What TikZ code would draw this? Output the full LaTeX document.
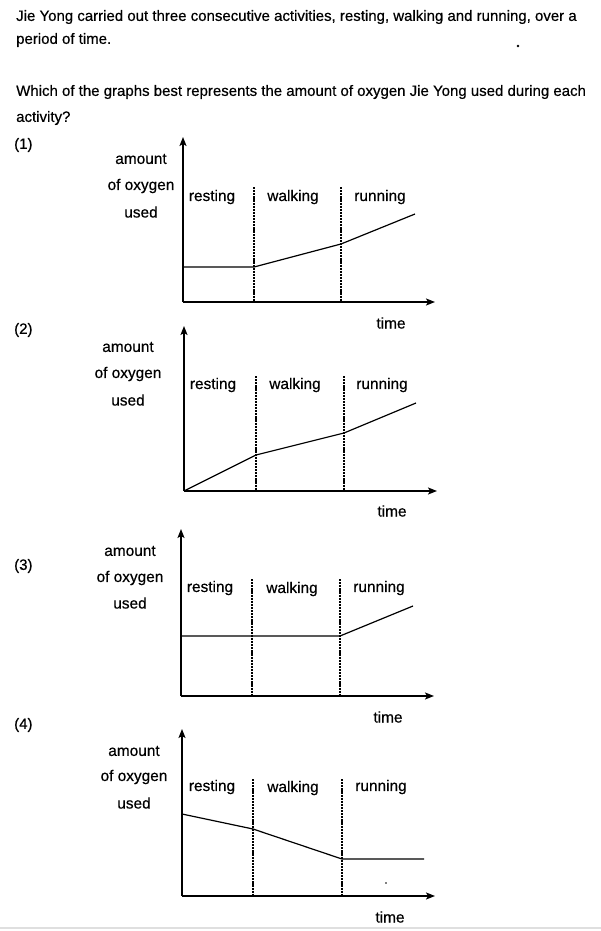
\documentclass[tikz,border=0pt]{standalone}
\usepackage{fontspec}
\setmainfont{Liberation Sans}[FakeBold=0.5]
\usetikzlibrary{arrows.meta}
\begin{document}
\begin{tikzpicture}[x=1pt,y=-1pt,
 txt/.style={font=\fontsize{15}{17}\selectfont, inner sep=0pt},
 lab/.style={font=\fontsize{15.4}{17}\selectfont, inner sep=0pt},
 axis/.style={line width=1.4pt, -{Stealth[length=9pt,width=7pt,inset=2pt]}},
 divider/.style={line width=1.1pt, dash pattern=on 2.2pt off 0.9pt},
 curve/.style={line width=1.2pt, line join=round},
]
\useasboundingbox (0,0) rectangle (601,931);
\fill[white] (0,0) rectangle (601,931);
\draw[gray!25, line width=1.5pt] (0,928) -- (601,928);
% question text
\node[txt, anchor=west] (l1) at (16,17) {Jie Yong carried out three consecutive activities, resting, walking and running, over a};
\node[txt, anchor=west] (l2) at (16,40) {period of time.};
\fill (518,46) circle (1.3pt);
\node[txt, anchor=west] (l3) at (16,92) {Which of the graphs best represents the amount of oxygen Jie Yong used during each};
\node[txt, anchor=west] (l4) at (16,118) {activity?};
% ---------- graph 1 ----------
\node[txt, anchor=west] (n1) at (14,145) {(1)};
\coordinate (o1) at (183,302);
\coordinate (y1) at (183,137);
\coordinate (x1) at (435,302);
\draw[axis] (o1) -- (y1);
\draw[axis] (o1) -- (x1);
\coordinate (d1a) at (254,187);
\coordinate (d1b) at (341,187);
\draw[divider] (d1a) -- (d1a |- o1);
\draw[divider] (d1b) -- (d1b |- o1);
\coordinate (c1a) at (183,267);
\coordinate (c1b) at (254,267);
\coordinate (c1c) at (341,244);
\coordinate (c1d) at (415,214);
\draw[curve] (c1a) -- (c1b) -- (c1c) -- (c1d);
\node[lab] (a1) at (141,159) {amount};
\node[lab] (b1) at (141,186) {of oxygen};
\node[lab] (u1) at (141,212) {used};
\node[lab] (r1) at (212,197) {resting};
\node[lab] (w1) at (293,197) {walking};
\node[lab] (g1) at (380,197) {running};
\node[lab] (t1) at (391,323) {time};
% ---------- graph 2 ----------
\node[txt, anchor=west] (n2) at (14,330) {(2)};
\coordinate (o2) at (184,491);
\coordinate (y2) at (184,326);
\coordinate (x2) at (437,491);
\draw[axis] (o2) -- (y2);
\draw[axis] (o2) -- (x2);
\coordinate (d2a) at (256,376);
\coordinate (d2b) at (344,376);
\draw[divider] (d2a) -- (d2a |- o2);
\draw[divider] (d2b) -- (d2b |- o2);
\coordinate (c2b) at (256,455);
\coordinate (c2c) at (344,433);
\coordinate (c2d) at (416,403);
\draw[curve] (o2) -- (c2b) -- (c2c) -- (c2d);
\node[lab] (a2) at (128,347) {amount};
\node[lab] (b2) at (128,374) {of oxygen};
\node[lab] (u2) at (128,400) {used};
\node[lab] (r2) at (213,385) {resting};
\node[lab] (w2) at (295,385) {walking};
\node[lab] (g2) at (382,385) {running};
\node[lab] (t2) at (392,511) {time};
% ---------- graph 3 ----------
\node[txt, anchor=west] (n3) at (14,566) {(3)};
\coordinate (o3) at (181,696);
\coordinate (y3) at (181,529);
\coordinate (x3) at (434,696);
\draw[axis] (o3) -- (y3);
\draw[axis] (o3) -- (x3);
\coordinate (d3a) at (252,579);
\coordinate (d3b) at (340,579);
\draw[divider] (d3a) -- (d3a |- o3);
\draw[divider] (d3b) -- (d3b |- o3);
\coordinate (c3a) at (181,636);
\coordinate (c3c) at (340,636);
\coordinate (c3d) at (413,606);
\draw[curve] (c3a) -- (c3c) -- (c3d);
\node[lab] (a3) at (130,551) {amount};
\node[lab] (b3) at (130,578) {of oxygen};
\node[lab] (u3) at (130,603) {used};
\node[lab] (r3) at (210,588) {resting};
\node[lab] (w3) at (292,589) {walking};
\node[lab] (g3) at (379,588) {running};
\node[lab] (t3) at (388,717) {time};
% ---------- graph 4 ----------
\node[txt, anchor=west] (n4) at (14,725) {(4)};
\coordinate (o4) at (182,896);
\coordinate (y4) at (182,729);
\coordinate (x4) at (435,896);
\draw[axis] (o4) -- (y4);
\draw[axis] (o4) -- (x4);
\coordinate (d4a) at (253,779);
\coordinate (d4b) at (342,779);
\draw[divider] (d4a) -- (d4a |- o4);
\draw[divider] (d4b) -- (d4b |- o4);
\coordinate (c4a) at (182,814);
\coordinate (c4b) at (253,829);
\coordinate (c4c) at (342,859);
\coordinate (c4d) at (424,859);
\draw[curve] (c4a) -- (c4b) -- (c4c) -- (c4d);
\fill (386,883) circle (0.9pt);
\node[lab] (a4) at (134,751) {amount};
\node[lab] (b4) at (134,777) {of oxygen};
\node[lab] (u4) at (134,803) {used};
\node[lab] (r4) at (212,787) {resting};
\node[lab] (w4) at (293,788) {walking};
\node[lab] (g4) at (381,787) {running};
\node[lab] (t4) at (390,917) {time};
\end{tikzpicture}
\end{document}
